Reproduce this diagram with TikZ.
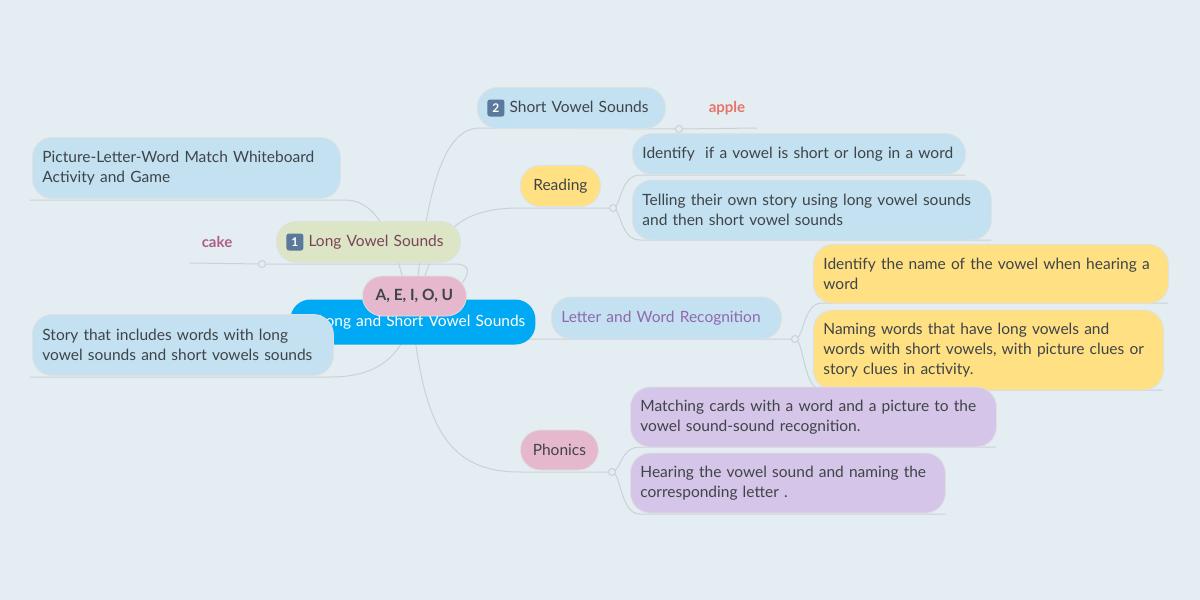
\documentclass[tikz,border=0pt]{standalone}
\usepackage{fontspec}
\setmainfont{Lato}
\definecolor{bg}{HTML}{E4EDF1}
\definecolor{ln}{HTML}{C9D2D7}
\definecolor{cblue}{HTML}{00A9F4}
\definecolor{lblue}{HTML}{C3E1F1}
\definecolor{lgreen}{HTML}{DCE5C6}
\definecolor{lpink}{HTML}{E6B8CE}
\definecolor{lyel}{HTML}{FFE083}
\definecolor{llav}{HTML}{D5C5E8}
\definecolor{txt}{HTML}{3F4448}
\definecolor{maroon}{HTML}{7A4558}
\definecolor{purp}{HTML}{9168AE}
\definecolor{cakec}{HTML}{B05B88}
\definecolor{applec}{HTML}{E8736A}
\definecolor{keyc}{HTML}{5A7A9C}
\newcommand{\keycap}[1]{\tikz[baseline=-4pt]\node[fill=keyc,rounded corners=2.5pt,text=white,font=\fontsize{12}{12}\selectfont\bfseries,minimum size=17pt,inner sep=0pt]{#1};}
\tikzset{
  box/.style={rounded corners=20pt,draw=black!12,line width=0.8pt,text=txt,align=left,inner xsep=10pt,font=\fontsize{15.5}{20}\selectfont,anchor=west},
  lbl/.style={font=\fontsize{15}{20}\selectfont\bfseries,inner sep=0pt},
  conn/.style={draw=ln,line width=1pt},
  dot/.style={circle,draw=ln,fill=bg,line width=1pt,inner sep=0pt,minimum size=7pt}
}
\begin{document}
\begin{tikzpicture}[x=1pt,y=-1pt]
\fill[bg] (0,0) rectangle (1200,600);
\useasboundingbox (0,0) rectangle (1200,600);
% coordinates
\coordinate (cc) at (413,322);
\coordinate (dShort) at (679,129);
\coordinate (dRead) at (613,208);
\coordinate (dLong) at (262,264);
\coordinate (dLet) at (795,339);
\coordinate (dPh) at (612,472);
% connectors
\draw[conn] (cc) .. controls (425,200) and (440,128) .. (480,128) -- (dShort) -- (757,128);
\draw[conn] (cc) .. controls (430,240) and (450,208) .. (520,208) -- (dRead);
\draw[conn] (190,263) -- (dLong) -- (455,264) .. controls (478,264) and (472,285) .. (cc);
\draw[conn] (30,200) -- (345,200) .. controls (385,200) and (400,260) .. (cc);
\draw[conn] (30,377) -- (330,377) .. controls (385,377) and (400,350) .. (cc);
\draw[conn] (cc) .. controls (450,339) and (480,339) .. (540,339) -- (dLet);
\draw[conn] (cc) .. controls (425,430) and (450,472) .. (520,472) -- (dPh);
\draw[conn] (dRead) .. controls (621,208) and (620,175) .. (640,175) -- (965,175);
\draw[conn] (dRead) .. controls (621,208) and (620,240) .. (640,240) -- (991,240);
\draw[conn] (dLet) .. controls (804,339) and (803,303) .. (822,303) -- (1168,303);
\draw[conn] (dLet) .. controls (804,339) and (803,390) .. (822,390) -- (1163,390);
\draw[conn] (dPh) .. controls (621,472) and (620,447) .. (640,447) -- (996,447);
\draw[conn] (dPh) .. controls (621,472) and (620,514) .. (640,514) -- (945,514);
\node[dot] at (dShort) {};
\node[dot] at (dRead) {};
\node[dot] at (dLong) {};
\node[dot] at (dLet) {};
\node[dot] at (dPh) {};
% nodes
\node[box,fill=cblue,draw=none,text=white,text width=225pt,minimum height=45pt,align=right] (center) at (290,322) {Long and Short Vowel Sounds};
\node[box,fill=lpink,font=\fontsize{15.5}{20}\selectfont\bfseries,minimum width=104pt,minimum height=40pt,inner xsep=8pt,align=center] (aeiou) at (362,296) {A, E, I, O, U};
\node[box,fill=lgreen,text=maroon,text width=164pt,minimum height=41pt] (long) at (276,242) {\keycap{1} Long Vowel Sounds};
\node[box,fill=lblue,text width=288pt,minimum height=61pt] (pic) at (32,168) {Picture-Letter-Word Match Whiteboard\\Activity and Game};
\node[lbl,text=cakec] (cake) at (217,242) {cake};
\node[box,fill=lblue,text width=281pt,minimum height=61pt] (story) at (32,345) {Story that includes words with long\\vowel sounds and short vowels sounds};
\node[box,fill=lblue,text width=168pt,minimum height=41pt] (short) at (477,108) {\keycap{2} Short Vowel Sounds};
\node[lbl,text=applec] (apple) at (727,108) {apple};
\node[box,fill=lyel,minimum width=80pt,minimum height=41pt,align=center] (read) at (520,186) {Reading};
\node[box,fill=lblue,text width=313pt,minimum height=41pt] (ident) at (632,154) {Identify\ \ if a vowel is short or long in a word};
\node[box,fill=lblue,text width=339pt,minimum height=60pt] (tell) at (632,210) {Telling their own story using long vowel sounds\\and then short vowel sounds};
\node[box,fill=lblue,text=purp,text width=210pt,minimum height=42pt] (letter) at (551,318) {Letter and Word Recognition};
\node[box,fill=lyel,text width=335pt,minimum height=59pt] (idname) at (813,274) {Identify the name of the vowel when hearing a\\word};
\node[box,fill=lyel,text width=330pt,minimum height=80pt] (naming) at (813,350) {Naming words that have long vowels and\\words with short vowels, with picture clues or\\story clues in activity.};
\node[box,fill=lpink,minimum width=78pt,minimum height=40pt,align=center] (phon) at (520,450) {Phonics};
\node[box,fill=llav,text width=346pt,minimum height=60pt] (match) at (630,417) {Matching cards with a word and a picture to the\\vowel sound-sound recognition.};
\node[box,fill=llav,text width=295pt,minimum height=60pt] (hear) at (630,483) {Hearing the vowel sound and naming the\\corresponding letter .};
\end{tikzpicture}
\end{document}
